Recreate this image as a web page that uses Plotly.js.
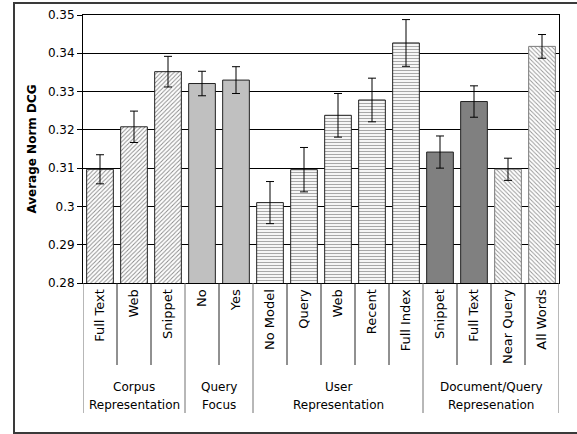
<!DOCTYPE html>
<html>
<head>
<meta charset="utf-8">
<script src="https://cdn.plot.ly/plotly-3.0.1.min.js"></script>
<style>
  html, body { margin: 0; padding: 0; background: #fff; overflow: hidden; }
  #wrap { position: relative; width: 577px; height: 434px; overflow: hidden; }
  #chart { width: 577px; height: 434px; }
  #frame { position: absolute; left: 13px; top: 2px; width: 640px; height: 428px;
           border: 2px solid #3a3a3a; border-right: none; pointer-events: none; }
</style>
</head>
<body>
<div id="wrap"><div id="chart"></div><div id="frame"></div></div>
<script>
// ---- data ----
const categories = ["Full Text", "Web", "Snippet", "No", "Yes",
  "No Model", "Query", "Web", "Recent", "Full Index",
  "Snippet", "Full Text", "Near Query", "All Words"];
const values = [0.3097, 0.3208, 0.3352, 0.3321, 0.3330,
  0.3010, 0.3096, 0.3238, 0.3278, 0.3427,
  0.3142, 0.3274, 0.3097, 0.3418];
const errors = [0.0038, 0.0041, 0.0040, 0.0032, 0.0035,
  0.0055, 0.0058, 0.0057, 0.0057, 0.0061,
  0.0042, 0.0041, 0.0029, 0.0031];
const groupLine1 = ["Corpus", "Query", "User", "Document/Query"];
const groupLine2 = ["Representation", "Focus", "Representation", "Represenation"];
const groupSizes = [3, 2, 5, 4];
const yTickValues = [0.28, 0.29, 0.30, 0.31, 0.32, 0.33, 0.34, 0.35];
const yTickLabels = ["0.28", "0.29", "0.3", "0.31", "0.32", "0.33", "0.34", "0.35"];
// fill style of each bar
const barStyleIdx = [0, 0, 0, 1, 1, 2, 2, 2, 2, 2, 3, 3, 4, 4];

// ---- fill styles ----
const styles = [
  {pattern: {shape: "/", fgcolor: "#8a8a8a", bgcolor: "#ffffff", size: 3, solidity: 0.3, fillmode: "replace"}, color: "#8a8a8a", line: "#222"},
  {pattern: {shape: ""}, color: "#c0c0c0", line: "#222"},
  {pattern: {shape: "-", fgcolor: "#a8a8a8", bgcolor: "#ffffff", size: 3, solidity: 0.4, fillmode: "replace"}, color: "#a8a8a8", line: "#222"},
  {pattern: {shape: ""}, color: "#808080", line: "#222"},
  {pattern: {shape: "\\", fgcolor: "#959595", bgcolor: "#ffffff", size: 3, solidity: 0.3, fillmode: "replace"}, color: "#959595", line: "#7a7a7a"}
];

const traces = styles.map((s, k) => {
  const idx = barStyleIdx.map((v, i) => v === k ? i : -1).filter(i => i >= 0);
  return {
    type: "bar",
    x: idx,
    y: idx.map(i => values[i]),
    width: 0.785,
    marker: {color: s.color, line: {color: s.line, width: 1}, pattern: s.pattern},
    error_y: {type: "data", array: idx.map(i => errors[i]), visible: true,
      color: "#000", thickness: 1, width: 4},
    hoverinfo: "none"
  };
});

// ---- separators and group labels (label area below the plot) ----
const PH = 268; // plot height in px
const shapes = [];
const annotations = [];
const shortEnd = -82 / PH;
const longEnd = -130 / PH;
const labelFont = {family: "DejaVu Sans, Liberation Sans, Arial", size: 12, color: "#000"};
shapes.push({type: "line", xref: "x", yref: "paper", x0: -0.5, x1: -0.5, y0: 0, y1: longEnd,
  line: {color: "#707070", width: 1}});
let start = 0;
groupSizes.forEach((n, g) => {
  for (let k = 1; k < n; k++) {
    const b = start + k - 0.5;
    shapes.push({type: "line", xref: "x", yref: "paper", x0: b, x1: b, y0: 0, y1: shortEnd,
      line: {color: "#222", width: 1}});
  }
  const end = start + n - 0.5;
  shapes.push({type: "line", xref: "x", yref: "paper", x0: end, x1: end, y0: 0, y1: longEnd,
    line: {color: "#707070", width: 1}});
  const mid = start - 0.5 + n / 2;
  annotations.push({xref: "x", yref: "paper", x: mid, y: -104 / PH, text: groupLine1[g],
    showarrow: false, xanchor: "center", yanchor: "middle", font: labelFont});
  annotations.push({xref: "x", yref: "paper", x: mid, y: -122 / PH, text: groupLine2[g],
    showarrow: false, xanchor: "center", yanchor: "middle", font: labelFont});
  start += n;
});

const xs = categories.map((_, i) => i);
const layout = {
  width: 577, height: 434,
  margin: {l: 83, r: 18, t: 15, b: 151, pad: 0},
  paper_bgcolor: "#fff", plot_bgcolor: "#fff",
  showlegend: false,
  barmode: "overlay",
  font: {family: "DejaVu Sans, Liberation Sans, Arial", size: 12, color: "#000"},
  xaxis: {
    range: [-0.5, categories.length - 0.5],
    tickvals: xs, ticktext: categories, tickangle: -90,
    ticks: "", showgrid: false, zeroline: false,
    showline: true, linecolor: "#000", linewidth: 1, mirror: true,
    tickfont: {size: 13, color: "#000"},
    fixedrange: true, automargin: false
  },
  yaxis: {
    range: [0.28, 0.35],
    tickvals: yTickValues, ticktext: yTickLabels,
    ticks: "outside", ticklen: 5, tickcolor: "#000", tickwidth: 1,
    showgrid: true, gridcolor: "#000", gridwidth: 1, zeroline: false,
    showline: true, linecolor: "#000", linewidth: 1, mirror: true,
    tickfont: {size: 12, color: "#000"},
    title: {text: "Average Norm DCG", standoff: 8,
      font: {size: 12, color: "#000", weight: "bold"}},
    fixedrange: true, automargin: false
  },
  shapes: shapes,
  annotations: annotations
};

Plotly.newPlot("chart", traces, layout, {displayModeBar: false, staticPlot: true});
</script>
</body>
</html>
